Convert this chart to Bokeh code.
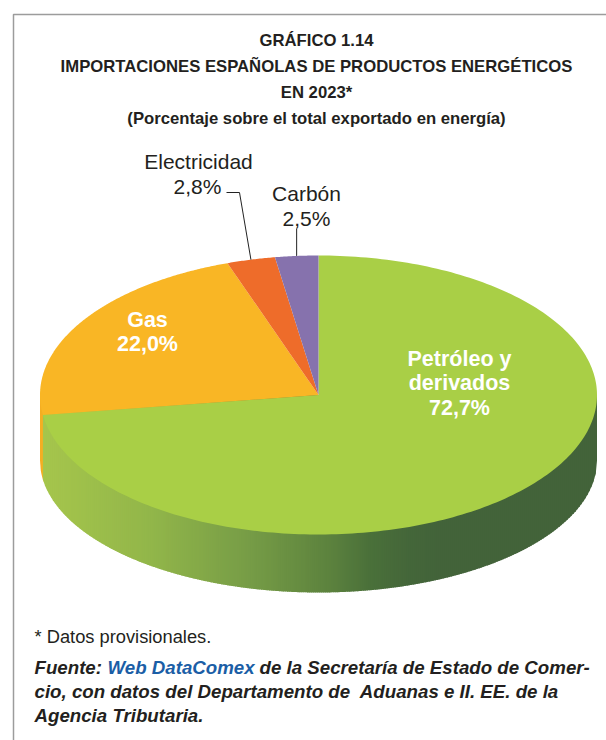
import numpy as np
from bokeh.plotting import figure
from bokeh.models import Range1d
from bokeh.core.properties import value
from bokeh.embed import file_html
from bokeh.resources import INLINE

# --- data ---
categories = ["Petróleo y derivados", "Gas", "Electricidad", "Carbón"]
shares = [72.7, 22.0, 2.8, 2.5]
labels = ["72,7%", "22,0%", "2,8%", "2,5%"]
colors = ["#A9CF46", "#F9B625", "#EE6C2A", "#8672AD"]

title_lines = ["GRÁFICO 1.14",
               "IMPORTACIONES ESPAÑOLAS DE PRODUCTOS ENERGÉTICOS",
               "EN 2023*",
               "(Porcentaje sobre el total exportado en energía)"]

# --- geometry (page pixels) ---
W, H = 606, 740
CX, CY, RX, RY = 318.0, 394.5, 278.5, 139.5
BOT_CY, BOT_RY = 460.0, 132.0
FONT = value("Liberation Sans")

p = figure(width=W, height=H, x_range=Range1d(0, W), y_range=Range1d(H, 0),
           output_backend="svg", toolbar_location=None, min_border=0,
           outline_line_color=None, background_fill_color="white", border_fill_color="white")
p.xaxis.visible = False
p.yaxis.visible = False
p.grid.visible = False

# frame
p.line([13, 13, 606], [740, 14, 14], line_color="#9C9C9C", line_width=1.5)

def bot_y(x):
    return BOT_CY + BOT_RY * np.sqrt(np.clip(1 - ((x - CX) / RX) ** 2, 0, 1))

# cumulative angles, clockwise from the top
edges = np.cumsum([0] + shares) / sum(shares) * 2 * np.pi
def ex(a): return CX + RX * np.sin(a)
def ey(a): return CY - RY * np.cos(a)

# gas side sliver
xl = ex(edges[1])
xs = np.linspace(CX - RX, xl + 1, 6)
p.patch(list(xs) + list(xs[::-1]), [CY] * 6 + list(bot_y(xs[::-1])), fill_color="#F5AE22", line_color=None)

# petroleum side, shaded in strips
stop_x = [40, 150, 250, 330, 370, 410, 440, 598]
stop_c = [(166, 198, 76), (146, 182, 74), (118, 156, 70), (92, 130, 62), (74, 112, 58), (68, 102, 58), (67, 99, 58), (67, 99, 58)]
def shade(x):
    c = [np.interp(x, stop_x, [s[i] for s in stop_c]) for i in range(3)]
    return "#%02x%02x%02x" % tuple(int(round(v)) for v in c)
sx, sy, sc = [], [], []
grid = np.append(np.arange(xl, CX + RX, 2.0), CX + RX)
for a, b in zip(grid[:-1], grid[1:]):
    e = min(b + 0.8, CX + RX)
    mids = np.linspace(a, e, 3)
    sx.append([a] + list(mids) + [e])
    sy.append([CY] + list(bot_y(mids)) + [CY])
    sc.append(shade((a + b) / 2))
p.patches(sx, sy, fill_color=sc, line_color=None)

# top face
for i, c in enumerate(colors):
    ang = np.linspace(edges[i], edges[i + 1], 240 if i < 2 else 30)
    p.patch([CX] + list(ex(ang)), [CY] + list(ey(ang)), fill_color=c, line_color=None)

# leader lines
mid = (edges[:-1] + edges[1:]) / 2
p.line([226, 239, ex(mid[2])], [192, 192, ey(mid[2])], line_color="#222222", line_width=1)
p.line([ex(mid[3]), ex(mid[3])], [228, ey(mid[3])], line_color="#222222", line_width=1)

def txt(x, y, s, size, color="#231F20", style="normal", align="center"):
    p.text([x], [y], text=[s], text_font=FONT, text_font_size=f"{size}px", text_font_style=style,
           text_color=color, text_align=align, text_baseline="middle")

for y, s in zip([40, 66, 92, 118], title_lines):
    txt(316, y, s, 16.7, style="bold")

txt(198, 161, "Electricidad", 21)
txt(197, 186, labels[2], 21)
txt(306, 193, "Carbón", 21)
txt(306, 218, labels[3], 21)

txt(147, 319, "Gas", 21.5, "white", "bold")
txt(147, 343, labels[1], 21.5, "white", "bold")
txt(459, 358, "Petróleo y", 21.5, "white", "bold")
txt(459, 382, "derivados", 21.5, "white", "bold")
txt(459, 407, labels[0], 21.5, "white", "bold")

txt(34, 636, "* Datos provisionales.", 18.3, align="left")
txt(34, 667, "Fuente:", 18.7, style="bold italic", align="left")
txt(107, 667, "Web DataComex", 18.7, "#1B5EA6", "bold italic", "left")
txt(259, 667, "de la Secretaría de Estado de Comer-", 18.7, style="bold italic", align="left")
txt(34, 691, "cio, con datos del Departamento de\u00a0 Aduanas e II. EE. de la", 18.7, style="bold italic", align="left")
txt(34, 715, "Agencia Tributaria.", 18.7, style="bold italic", align="left")

open("out.html", "w").write(file_html(p, INLINE))
